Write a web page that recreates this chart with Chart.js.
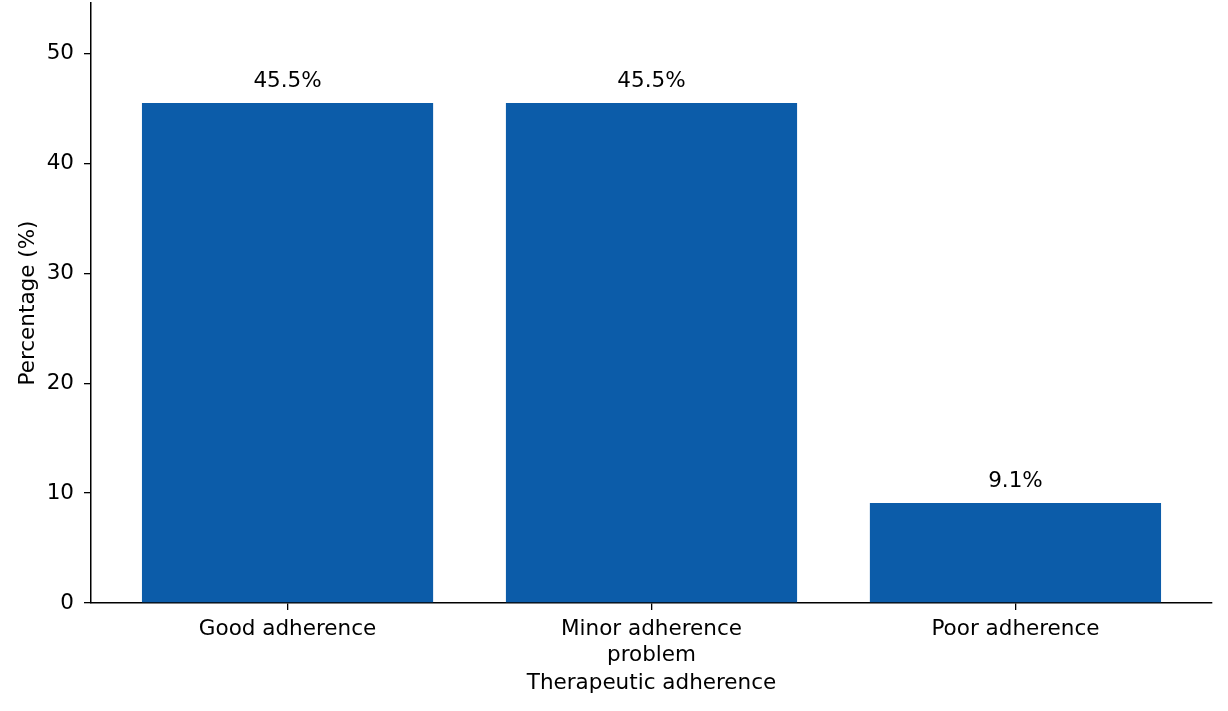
<!DOCTYPE html>
<html>
<head>
<meta charset="utf-8">
<script src="https://cdn.jsdelivr.net/npm/chart.js@4/dist/chart.umd.min.js"></script>
<style>
  html, body { margin: 0; padding: 0; background: #fff; }
  #wrap { width: 1228px; height: 711px; }
</style>
</head>
<body>
<div id="wrap"><canvas id="chart"></canvas></div>
<script>
// ------- data -------
const categories = ['Good adherence', ['Minor adherence', 'problem'], 'Poor adherence'];
const percentages = [45.5, 45.5, 9.1];
const yTicks = [0, 10, 20, 30, 40, 50];
const yMax = 54.6;

const barColor = '#0c5ca9';
const font = { family: 'DejaVu Sans', size: 21.5 };

// value labels above bars
const valueLabels = {
  id: 'valueLabels',
  afterDatasetsDraw(chart) {
    const ctx = chart.ctx;
    const meta = chart.getDatasetMeta(0);
    ctx.save();
    ctx.font = `${font.size}px ${font.family}`;
    ctx.fillStyle = '#000';
    ctx.textAlign = 'center';
    ctx.textBaseline = 'middle';
    meta.data.forEach((bar, i) => {
      ctx.fillText(percentages[i].toFixed(1) + '%', bar.x, bar.y - 22);
    });
    ctx.restore();
  }
};

new Chart(document.getElementById('chart'), {
  type: 'bar',
  data: {
    datasets: [{
      data: percentages.map((v, i) => ({ x: i, y: v })),
      backgroundColor: barColor,
      borderWidth: 0,
      categoryPercentage: 1,
      barPercentage: 0.8
    }]
  },
  options: {
    responsive: true, maintainAspectRatio: false, animation: false,
    layout: { padding: { top: 3, right: 16, left: 0, bottom: 0 } },
    plugins: { legend: { display: false }, tooltip: { enabled: false } },
    scales: {
      x: {
        type: 'linear', min: -0.54, max: 2.54, offset: false,
        afterBuildTicks: s => { s.ticks = categories.map((c, i) => ({ value: i })); },
        afterFit: s => { s.height = 108; s.paddingLeft = 0; s.paddingRight = 0; },
        grid: { offset: false, drawOnChartArea: false, drawTicks: true, tickLength: 7, color: '#000', lineWidth: 1.3 },
        border: { display: true, color: '#000', width: 1.5 },
        ticks: {
          color: '#000', font, padding: 7, maxRotation: 0, autoSkip: false,
          callback: v => categories[v]
        },
        title: { display: true, text: 'Therapeutic adherence', color: '#000', font, padding: { top: 0, bottom: 15 } }
      },
      y: {
        min: 0, max: yMax,
        afterBuildTicks: s => { s.ticks = yTicks.map(v => ({ value: v })); },
        afterFit: s => { s.width = 91; s.paddingTop = 0; s.paddingBottom = 0; },
        grid: { drawOnChartArea: false, drawTicks: true, tickLength: 7, color: '#000', lineWidth: 1.3 },
        border: { display: true, color: '#000', width: 1.5 },
        ticks: { color: '#000', font, padding: 10 },
        title: { display: true, text: 'Percentage (%)', color: '#000', font, padding: { top: 16, bottom: 0 } }
      }
    }
  },
  plugins: [valueLabels]
});
</script>
</body>
</html>
